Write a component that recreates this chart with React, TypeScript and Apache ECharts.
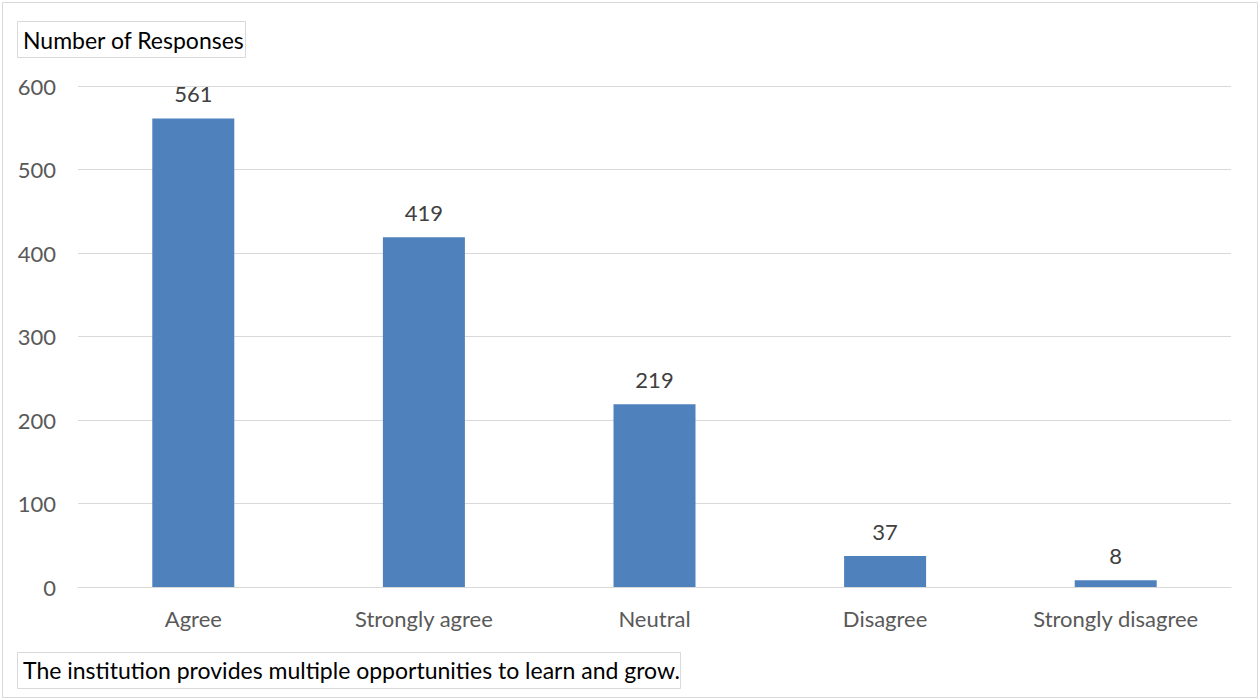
import React, { useEffect, useRef } from "react";
import * as echarts from "echarts";

const categories = ["Agree", "Strongly agree", "Neutral", "Disagree", "Strongly disagree"];
const responses = [561, 419, 219, 37, 8];
const yTicks = [0, 100, 200, 300, 400, 500, 600];
const yAxisTitle = "Number of Responses";
const chartCaption = "The institution provides multiple opportunities to learn and grow.";

const FONT = "Lato, 'Open Sans', sans-serif";

export default function App() {
  const ref = useRef<HTMLDivElement>(null);
  useEffect(() => {
    document.body.style.margin = "0";
    if (!ref.current) return;
    const chart = echarts.init(ref.current, undefined, { renderer: "svg" });
    chart.setOption({
      animation: false,
      backgroundColor: "#ffffff",
      textStyle: { fontFamily: FONT },
      grid: { left: 78, right: 29, top: 86, bottom: 113, containLabel: false },
      xAxis: {
        type: "category",
        data: categories,
        axisLine: { show: true, lineStyle: { color: "#d9d9d9", width: 1 } },
        axisTick: { show: false },
        axisLabel: { color: "#595959", fontSize: 22, margin: 20, fontFamily: FONT },
      },
      yAxis: {
        type: "value",
        min: yTicks[0],
        max: yTicks[yTicks.length - 1],
        interval: 100,
        axisLine: { show: false },
        axisTick: { show: false },
        splitLine: { lineStyle: { color: "#d9d9d9", width: 1 } },
        axisLabel: { color: "#595959", fontSize: 22, margin: 22, fontFamily: FONT },
      },
      series: [
        {
          type: "bar",
          data: responses,
          barWidth: 82,
          itemStyle: { color: "#4f81bd" },
          label: {
            show: true,
            position: "top",
            distance: 14,
            color: "#404040",
            fontSize: 22,
            fontFamily: FONT,
          },
        },
      ],
      graphic: [
        {
          type: "rect",
          shape: { x: 2.5, y: 2.5, width: 1255, height: 695 },
          style: { fill: "none", stroke: "#d9d9d9", lineWidth: 1 },
          silent: true,
        },
        {
          type: "rect",
          shape: { x: 17.5, y: 21.5, width: 228, height: 36 },
          style: { fill: "#ffffff", stroke: "#d9d9d9", lineWidth: 1 },
          z: 10,
        },
        {
          type: "text",
          x: 23,
          y: 40,
          style: { text: yAxisTitle, fill: "#000000", fontSize: 23, fontFamily: FONT, verticalAlign: "middle" },
          z: 11,
        },
        {
          type: "rect",
          shape: { x: 17.5, y: 652.5, width: 663, height: 36 },
          style: { fill: "#ffffff", stroke: "#d9d9d9", lineWidth: 1 },
          z: 10,
        },
        {
          type: "text",
          x: 23,
          y: 670,
          style: { text: chartCaption, fill: "#000000", fontSize: 23, fontFamily: FONT, verticalAlign: "middle" },
          z: 11,
        },
      ],
    });
    return () => chart.dispose();
  }, []);
  return <div ref={ref} style={{ width: 1260, height: 700 }} />;
}
